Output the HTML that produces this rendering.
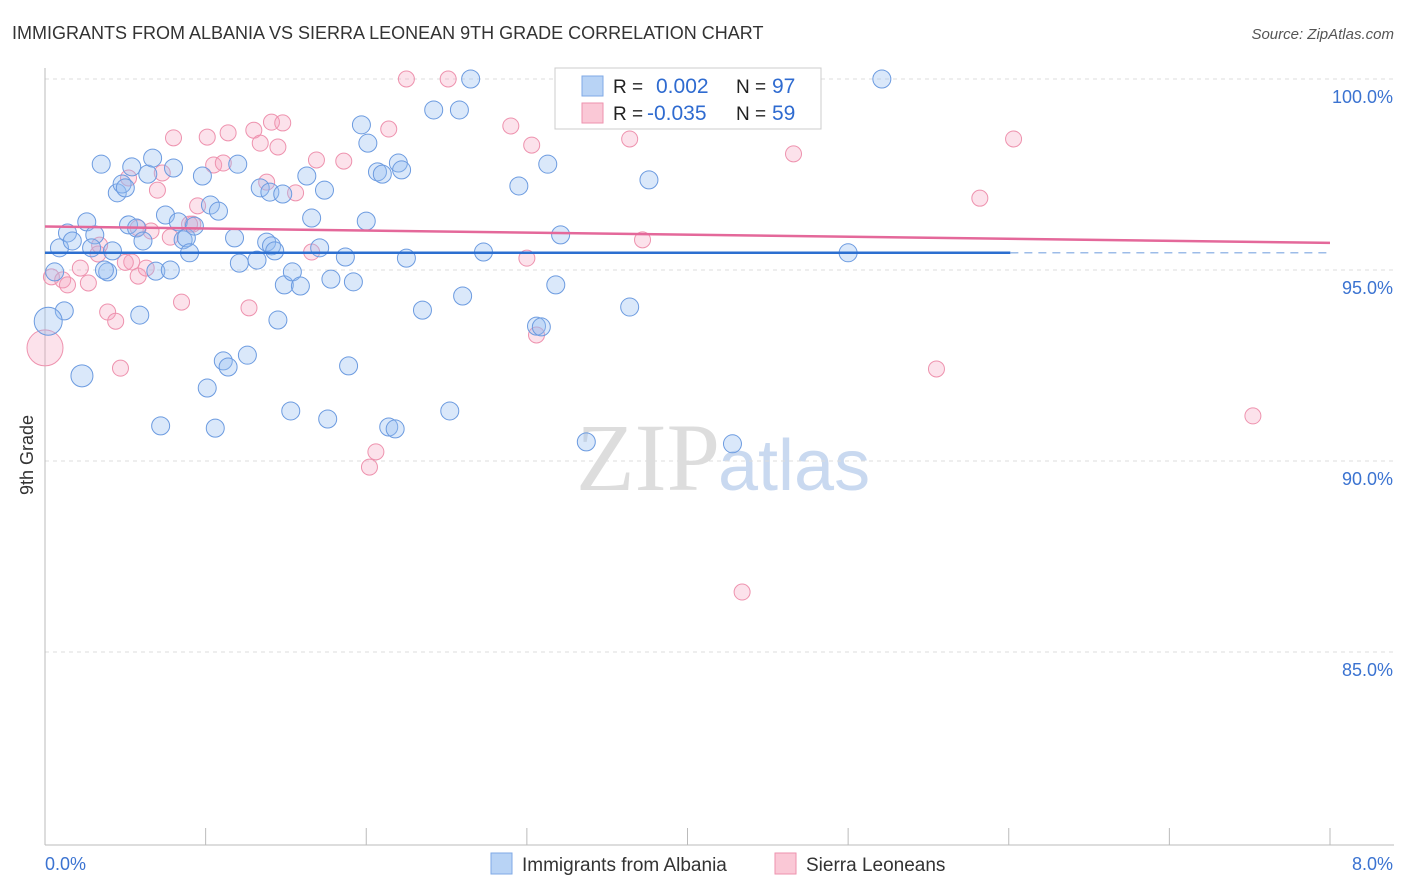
<!DOCTYPE html>
<html><head><meta charset="utf-8">
<style>
body{margin:0;background:#fff;font-family:"Liberation Sans",sans-serif;}
svg{display:block}
</style></head>
<body>
<svg id="chart" width="1406" height="892" xmlns="http://www.w3.org/2000/svg">
<text x="12" y="39" font-size="18" fill="#333">IMMIGRANTS FROM ALBANIA VS SIERRA LEONEAN 9TH GRADE CORRELATION CHART</text>
<text x="1394" y="39" font-size="15" fill="#555" font-style="italic" text-anchor="end">Source: ZipAtlas.com</text>
<text x="720" y="490" font-size="96" fill="#ddd" text-anchor="end" font-family="Liberation Serif,serif">ZIP</text>
<text x="718" y="490" font-size="72" fill="#c9d9f0">atlas</text>
<text transform="translate(33,455) rotate(-90)" font-size="18" fill="#333" text-anchor="middle">9th Grade</text>
<g id="grid"></g>
<g id="axes"></g>
<g id="pts"></g>
<g id="trend"></g>
<g>
<rect x="555" y="68" width="266" height="61" fill="#fff" stroke="#ccc"/>
<rect x="582" y="76" width="21" height="20" fill="#b8d3f5" stroke="#7fa9e6"/>
<rect x="582" y="103" width="21" height="20" fill="#fac8d6" stroke="#ee92ae"/>
<text x="613" y="93" font-size="19" fill="#222">R =</text>
<text x="656" y="93" font-size="21" fill="#2f6bd0">0.002</text>
<text x="736" y="93" font-size="19" fill="#222">N =</text>
<text x="772" y="93" font-size="21" fill="#2f6bd0">97</text>
<text x="613" y="120" font-size="19" fill="#222">R =</text>
<text x="647" y="120" font-size="21" fill="#2f6bd0">-0.035</text>
<text x="736" y="120" font-size="19" fill="#222">N =</text>
<text x="772" y="120" font-size="21" fill="#2f6bd0">59</text>
</g>
<g>
<rect x="491" y="853" width="21" height="21" fill="#b8d3f5" stroke="#7fa9e6"/>
<text x="522" y="871" font-size="19" fill="#333">Immigrants from Albania</text>
<rect x="775" y="853" width="21" height="21" fill="#fac8d6" stroke="#ee92ae"/>
<text x="806" y="871" font-size="19" fill="#333">Sierra Leoneans</text>
</g>
</svg>
<script>
const xTicks=[0,1,2,3,4,5,6,7,8];
const yTicks=[85,90,95,100];
const yTickLabels=["85.0%","90.0%","95.0%","100.0%"];
const xLabels=["0.0%","8.0%"];
const blueX=[.06,.09,.14,.17,.26,.31,.29,.35,.39,.42,.45,.48,.52,.54,.57,.61,.64,.67,.69,.78,.75,.80,.83,.86,.88,.90,.93,.98,1.03,1.08,1.11,1.14,1.18,1.20,1.21,1.01,1.26,1.32,1.34,1.38,1.41,1.43,1.45,1.49,1.54,1.59,1.53,1.63,1.66,1.71,1.74,1.76,1.78,1.87,1.89,1.92,1.97,2.00,2.01,2.07,2.10,2.20,2.22,2.14,2.18,2.25,2.35,2.42,2.58,2.52,2.60,2.65,2.73,2.95,3.06,3.09,3.13,3.18,3.21,3.37,3.64,3.76,4.28,5.00,5.21,.72,1.06,.59,.23,.12,.02,.37,.50,1.40,1.48];
const blueY=[94.95,95.58,95.97,95.76,96.26,95.92,95.58,97.77,94.95,95.50,97.02,97.25,96.18,97.70,96.10,95.76,97.51,97.93,94.97,95.00,96.44,97.67,96.26,95.79,95.84,95.45,96.15,97.46,96.70,96.54,92.62,92.46,95.84,97.77,95.18,91.91,92.77,95.26,97.15,95.73,95.63,95.50,93.69,94.61,94.95,94.58,91.31,97.46,96.36,95.58,97.09,91.10,94.76,95.34,92.49,94.69,98.80,96.28,98.32,97.57,97.51,97.80,97.62,90.89,90.84,95.31,93.95,99.19,99.19,91.31,94.32,100.0,95.47,97.20,93.53,93.51,97.77,94.61,95.92,90.50,94.03,97.36,90.45,95.45,100.0,90.92,90.86,93.82,92.23,93.93,93.66,95.00,97.15,97.04,96.99];
const blueR=blueX.map((v,i)=>i==88?11:(i==90?14:9));
const pinkX=[0,.04,.11,.14,.22,.27,.33,.39,.44,.47,.52,.54,.58,.63,.66,.70,.73,.78,.80,.85,.92,.95,1.01,1.05,1.11,1.14,1.27,1.30,1.34,1.38,1.41,1.45,1.48,1.56,1.66,1.69,1.86,2.02,2.06,2.14,2.25,2.51,2.90,3.00,3.03,3.06,3.64,3.72,4.30,4.34,4.66,5.55,5.82,6.03,7.52,.90,.34,.50,.58];
const pinkY=[92.96,94.82,94.74,94.61,95.05,94.66,95.42,93.90,93.66,92.43,97.41,95.21,94.84,95.05,96.02,97.09,97.54,95.86,98.46,94.16,96.20,96.68,98.48,97.75,97.80,98.59,94.01,98.66,98.32,97.30,98.87,98.22,98.85,97.02,95.47,97.88,97.85,89.84,90.24,98.69,100,100,98.77,95.31,98.27,93.30,98.43,95.79,100,86.57,98.04,92.41,96.88,98.43,91.18,96.20,95.65,95.2,96.1];
const pinkR=pinkX.map((v,i)=>i==0?18:8);
const blueTrend=[95.45,95.45];
const pinkTrend=[96.14,95.71];
const NS="http://www.w3.org/2000/svg";
const X=v=>45+v*(1285/8);
const Y=v=>79+(100-v)*(191/5);
function mk(tag,attrs,parent){const e=document.createElementNS(NS,tag);for(const k in attrs)e.setAttribute(k,attrs[k]);parent.appendChild(e);return e;}
const grid=document.getElementById('grid'),axes=document.getElementById('axes'),pts=document.getElementById('pts'),tr=document.getElementById('trend');
yTicks.forEach((t,i)=>{
 const l=mk('line',{x1:45,x2:1394,y1:Y(t),y2:Y(t),stroke:'#ddd','stroke-dasharray':'4,4'},grid);
 
 
 const tx=mk('text',{x:1393,y:Y(t)+24,'font-size':18,fill:'#3b73d1','text-anchor':'end'},axes);
 tx.textContent=yTickLabels[i];
 
 
});
const ya=mk('line',{x1:45,x2:45,y1:68,y2:845,stroke:'#bbb'},axes);


const xa=mk('line',{x1:45,x2:1394,y1:845,y2:845,stroke:'#bbb'},axes);


xTicks.forEach(t=>{
 const l=mk('line',{x1:X(t),x2:X(t),y1:828,y2:845,stroke:'#bbb'},axes);
 
 
});
[[0,'start',45],[8,'end',1393]].forEach((a,i)=>{
 const tx=mk('text',{x:a[2],y:870,'font-size':18,fill:'#3b73d1','text-anchor':a[1]},axes);
 tx.textContent=xLabels[i];
 
 
});
pinkX.forEach((v,i)=>{
 const c=mk('circle',{cx:X(v),cy:Y(pinkY[i]),r:pinkR[i],fill:'rgba(245,160,190,0.3)',stroke:'#ee92ae','stroke-width':1},pts);
 
 
});
blueX.forEach((v,i)=>{
 const c=mk('circle',{cx:X(v),cy:Y(blueY[i]),r:blueR[i],fill:'rgba(150,190,240,0.35)',stroke:'#6c9be0','stroke-width':1},pts);
 
 
});
const bt1=mk('line',{x1:X(0),x2:X(6.01),y1:Y(blueTrend[0]),y2:Y(blueTrend[0]+(blueTrend[1]-blueTrend[0])*6.01/8),stroke:'#2c6fd0','stroke-width':2.5},tr);


const bt2=mk('line',{x1:X(6.01),x2:X(8),y1:Y(blueTrend[0]+(blueTrend[1]-blueTrend[0])*6.01/8),y2:Y(blueTrend[1]),stroke:'#9dbce8','stroke-width':1.5,'stroke-dasharray':'8,6'},tr);


const pt=mk('line',{x1:X(0),x2:X(8),y1:Y(pinkTrend[0]),y2:Y(pinkTrend[1]),stroke:'#e4689a','stroke-width':2.5},tr);


</script>
</body></html>
